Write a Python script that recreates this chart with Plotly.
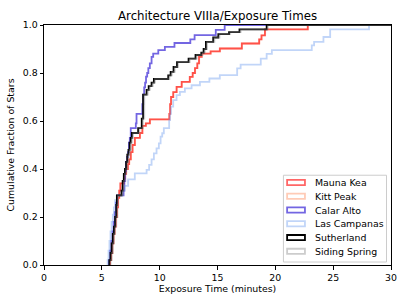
import plotly.graph_objects as go

# ---- data ----
sites = ["Mauna Kea", "Kitt Peak", "Calar Alto", "Las Campanas", "Sutherland", "Siding Spring"]

mauna_t = [5.7, 5.8, 5.9, 6.0, 6.1, 6.2, 6.3, 6.4, 6.5, 6.6, 6.9, 7.0, 7.1, 7.25, 7.36, 7.5, 7.65, 7.85,
           8.29, 8.5, 8.8, 9.15, 10.83, 10.9, 10.98, 11.17, 11.46, 11.9, 12.6, 12.85, 13.05, 13.25, 13.4,
           13.63, 14.4, 15.2, 17.1, 18.6, 18.8, 19.1, 22.8]
mauna_f = [0.02, 0.05, 0.09, 0.13, 0.16, 0.2, 0.24, 0.28, 0.31, 0.34, 0.36, 0.38, 0.4, 0.42, 0.44, 0.47, 0.5, 0.53,
           0.55, 0.58, 0.59, 0.607, 0.63, 0.67, 0.70, 0.72, 0.742, 0.763, 0.784, 0.80, 0.82, 0.84, 0.867,
           0.881, 0.89, 0.902, 0.923, 0.94, 0.957, 0.982, 1.0]

kitt_t = [5.72, 5.82, 5.92, 6.02, 6.12, 6.22, 6.32, 6.42, 6.52, 6.62, 6.92, 7.02, 7.12, 7.27, 7.38, 7.52, 7.67, 7.87,
          8.3, 8.52, 8.82, 9.17, 10.85, 10.92, 11.0, 11.19, 11.48, 11.92, 12.62, 12.87, 13.07, 13.27, 13.42,
          13.65, 14.42, 15.22, 17.12, 18.62, 18.82, 19.12, 22.82]
kitt_f = [0.02, 0.05, 0.09, 0.13, 0.16, 0.2, 0.24, 0.28, 0.31, 0.34, 0.36, 0.38, 0.4, 0.42, 0.44, 0.47, 0.5, 0.53,
          0.55, 0.58, 0.59, 0.607, 0.63, 0.67, 0.70, 0.72, 0.742, 0.763, 0.784, 0.80, 0.82, 0.84, 0.867,
          0.881, 0.89, 0.902, 0.923, 0.94, 0.957, 0.982, 1.0]

calar_t = [5.62, 5.72, 5.82, 5.92, 6.02, 6.12, 6.22, 6.32, 6.88, 6.95, 7.02, 7.1, 7.18, 7.26, 7.34, 7.42, 7.5,
           7.94, 8.0, 8.5, 8.58, 8.66, 8.74, 8.82, 8.92, 9.02, 9.15, 9.3, 9.44, 9.88, 10.45, 11.28, 12.65,
           13.02, 14.85, 15.62]
calar_f = [0.02, 0.06, 0.10, 0.14, 0.18, 0.22, 0.26, 0.29, 0.31, 0.35, 0.39, 0.43, 0.45, 0.47, 0.51, 0.53, 0.57,
           0.59, 0.63, 0.67, 0.71, 0.74, 0.76, 0.785, 0.80, 0.82, 0.84, 0.867, 0.881, 0.895, 0.909, 0.925, 0.94,
           0.958, 0.98, 1.0]

campanas_t = [5.5, 5.58, 5.66, 5.75, 5.85, 5.95, 6.05, 6.15, 6.3, 6.75, 6.95, 7.27, 7.85, 8.87, 9.09, 9.3, 9.5,
              9.73, 9.93, 10.08, 10.22, 10.36, 10.82, 10.9, 10.98, 11.17, 11.46, 11.75, 12.18, 12.76, 13.48,
              14.3, 15.2, 16.7, 17.0, 18.74, 19.25, 19.7, 23.15, 23.35, 24.16, 24.74, 28.1]
campanas_f = [0.02, 0.06, 0.10, 0.14, 0.18, 0.21, 0.24, 0.27, 0.29, 0.31, 0.33, 0.357, 0.382, 0.396, 0.417, 0.44,
              0.465, 0.486, 0.507, 0.535, 0.549, 0.57, 0.604, 0.63, 0.66, 0.687, 0.708, 0.721, 0.736, 0.749,
              0.763, 0.777, 0.791, 0.819, 0.835, 0.86, 0.88, 0.895, 0.915, 0.93, 0.95, 0.982, 1.0]

suther_t = [5.65, 5.75, 5.85, 5.95, 6.05, 6.15, 6.25, 6.3, 6.7, 6.8, 6.9, 7.0, 7.1, 7.2, 7.3, 7.4, 7.5, 7.6,
            8.14, 8.45, 8.57, 8.87, 9.05, 9.3, 9.5, 10.74, 10.95, 11.2, 11.5, 12.5, 13.1, 13.6, 13.8, 14.0,
            14.63, 15.07, 16.0, 16.9, 19.25]
suther_f = [0.02, 0.05, 0.09, 0.13, 0.16, 0.2, 0.25, 0.29, 0.31, 0.35, 0.38, 0.4, 0.43, 0.46, 0.48, 0.51, 0.53,
            0.55, 0.57, 0.61, 0.71, 0.73, 0.745, 0.76, 0.775, 0.79, 0.805, 0.825, 0.845, 0.86, 0.875, 0.885,
            0.9, 0.93, 0.948, 0.962, 0.97, 0.982, 1.0]

siding_t = [5.75, 5.85, 5.95, 6.05, 6.15, 6.25, 6.35, 6.4, 6.8, 6.9, 7.0, 7.1, 7.2, 7.3, 7.4, 7.5, 7.6, 7.7,
            8.25, 8.55, 8.67, 8.97, 9.15, 9.4, 9.6, 10.84, 11.05, 11.3, 11.6, 12.6, 13.2, 13.7, 13.9, 14.1,
            14.73, 15.17, 16.1, 17.0, 19.35]
siding_f = [0.02, 0.05, 0.09, 0.13, 0.16, 0.2, 0.25, 0.29, 0.31, 0.35, 0.38, 0.4, 0.43, 0.46, 0.48, 0.51, 0.53,
            0.55, 0.57, 0.61, 0.71, 0.73, 0.745, 0.76, 0.775, 0.79, 0.805, 0.825, 0.845, 0.86, 0.875, 0.885,
            0.9, 0.93, 0.948, 0.962, 0.97, 0.982, 1.0]

x_ticks = [0, 5, 10, 15, 20, 25, 30]
y_ticks = [0.0, 0.2, 0.4, 0.6, 0.8, 1.0]

colors = {
    "Mauna Kea": "rgba(255,0,0,0.6)",
    "Kitt Peak": "rgba(255,160,122,0.55)",
    "Calar Alto": "rgba(40,20,210,0.65)",
    "Las Campanas": "rgba(100,149,237,0.4)",
    "Sutherland": "rgb(0,0,0)",
    "Siding Spring": "rgba(128,128,128,0.4)",
}

series = {
    "Mauna Kea": (mauna_t, mauna_f),
    "Kitt Peak": (kitt_t, kitt_f),
    "Calar Alto": (calar_t, calar_f),
    "Las Campanas": (campanas_t, campanas_f),
    "Sutherland": (suther_t, suther_f),
    "Siding Spring": (siding_t, siding_f),
}

draw_order = ["Kitt Peak", "Mauna Kea", "Calar Alto", "Las Campanas", "Sutherland", "Siding Spring"]

fig = go.Figure()
for name in draw_order:
    t, f = series[name]
    xs = [t[0]] + list(t) + [40]
    ys = [0.0] + list(f) + [f[-1]]
    fig.add_trace(go.Scatter(x=xs, y=ys, mode="lines", line=dict(color=colors[name], width=1.8, shape="hv"),
                             name=name, showlegend=False, hoverinfo="skip"))

W, H = 407, 305
L, R, T, B = 44.3, 390.7, 24.7, 265.3


def px(xp):
    return (xp - L) / (R - L)


def py(yp):
    return (B - yp) / (B - T)


font = "DejaVu Sans"
fig.update_layout(
    width=W, height=H,
    margin=dict(l=L, r=W - R, t=T, b=H - B, pad=0),
    paper_bgcolor="white", plot_bgcolor="white",
    font=dict(family=font, size=9.4, color="black"),
    title=dict(text="Architecture VIIIa/Exposure Times", x=0.5, xref="paper", xanchor="center",
               y=1 - 15.5 / H, yanchor="middle", font=dict(size=11.8, family=font)),
    xaxis=dict(range=[0, 30], tickvals=x_ticks, ticktext=[str(v) for v in x_ticks], automargin=False,
               showgrid=False, zeroline=False, showline=True, linecolor="black", linewidth=1,
               mirror=True, ticks="outside", ticklen=3.5, tickwidth=1, tickcolor="black",
               tickfont=dict(size=9.4), title=dict(text="Exposure Time (minutes)", font=dict(size=9.4), standoff=3)),
    yaxis=dict(range=[0, 1], tickvals=y_ticks, ticktext=["%.1f" % v for v in y_ticks], automargin=False,
               showgrid=False, zeroline=False, showline=True, linecolor="black", linewidth=1,
               mirror=True, ticks="outside", ticklen=3.5, tickwidth=1, tickcolor="black",
               tickfont=dict(size=9.4), title=dict(text="Cumulative Fraction of Stars", font=dict(size=9.4), standoff=6)),
)

# legend box (matplotlib-style patches)
shapes = []
annotations = []
shapes.append(dict(type="rect", xref="paper", yref="paper", x0=px(283.3), x1=px(386.2), y0=py(262.3), y1=py(175.3),
                   line=dict(color="rgb(204,204,204)", width=1), fillcolor="rgba(255,255,255,0.8)", layer="above"))
row_y = [182.6, 196.4, 210.2, 224.0, 237.8, 251.6]
for name, yy in zip(sites, row_y):
    shapes.append(dict(type="rect", xref="paper", yref="paper", x0=px(287.0), x1=px(304.8),
                       y0=py(yy + 2.6), y1=py(yy - 2.6),
                       line=dict(color=colors[name], width=1.8), fillcolor="rgba(0,0,0,0)", layer="above"))
    annotations.append(dict(xref="paper", yref="paper", x=px(312.5), y=py(yy), text=name, showarrow=False,
                            xanchor="left", yanchor="middle", font=dict(size=9.4, family=font)))
fig.update_layout(shapes=shapes, annotations=annotations)

fig.write_html("out.html", config={"displayModeBar": False, "staticPlot": True},
               post_script="document.body.style.margin='0';")
